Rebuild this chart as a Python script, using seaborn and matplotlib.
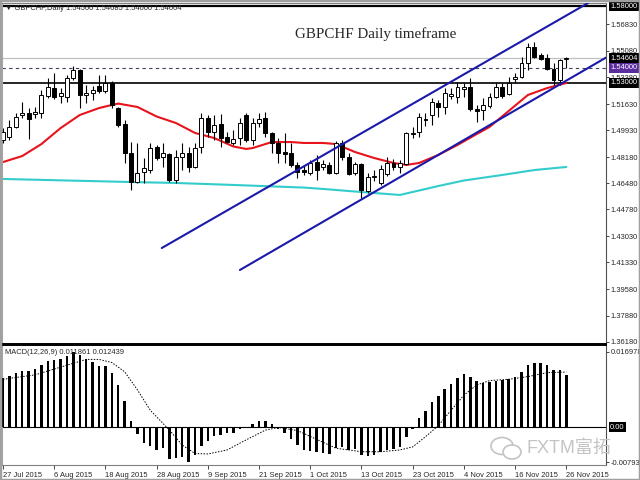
import numpy as np
import pandas as pd
import matplotlib
matplotlib.use("Agg")
import matplotlib.pyplot as plt
import matplotlib.transforms as mtransforms
from matplotlib.patches import Rectangle, Ellipse
import seaborn as sns

# daily candles, 27 Jul 2015 .. 26 Nov 2015
opens = [1.4929, 1.4949, 1.5014, 1.5092, 1.5105, 1.5098, 1.5105, 1.5215, 1.5267, 1.5215,
         1.5209, 1.5332, 1.5384, 1.5222, 1.5235, 1.5280, 1.5248, 1.5300, 1.5137, 1.5033,
         1.4845, 1.4656, 1.4721, 1.4734, 1.4884, 1.4819, 1.4838, 1.4669, 1.4819, 1.4845,
         1.4754, 1.4884, 1.5072, 1.4981, 1.5033, 1.4949, 1.4910, 1.4942, 1.5092, 1.4929,
         1.5040, 1.5072, 1.4975, 1.4910, 1.4851, 1.4845, 1.4767, 1.4734, 1.4715, 1.4786,
         1.4754, 1.4767, 1.4715, 1.4910, 1.4819, 1.4715, 1.4773, 1.4598, 1.4689, 1.4650,
         1.4708, 1.4780, 1.4754, 1.4773, 1.4968, 1.4981, 1.5059, 1.5092, 1.5170, 1.5144,
         1.5215, 1.5209, 1.5261, 1.5274, 1.5131, 1.5124, 1.5150, 1.5209, 1.5274, 1.5228,
         1.5326, 1.5339, 1.5430, 1.5534, 1.5482, 1.5462, 1.5391, 1.5319, 1.5456]
highs = [1.5007, 1.5059, 1.5105, 1.5176, 1.5137, 1.5144, 1.5254, 1.5332, 1.5365, 1.5267,
         1.5352, 1.5410, 1.5391, 1.5287, 1.5280, 1.5352, 1.5352, 1.5313, 1.5144, 1.5059,
         1.4916, 1.4910, 1.4812, 1.4910, 1.4897, 1.4910, 1.4845, 1.4864, 1.4910, 1.4884,
         1.4910, 1.5105, 1.5092, 1.5092, 1.5098, 1.4981, 1.4994, 1.5072, 1.5105, 1.5072,
         1.5105, 1.5111, 1.4981, 1.4942, 1.4975, 1.4910, 1.4786, 1.4767, 1.4799, 1.4832,
         1.4799, 1.4786, 1.4923, 1.4929, 1.4845, 1.4786, 1.4780, 1.4715, 1.4734, 1.4767,
         1.4819, 1.4806, 1.4799, 1.4981, 1.5014, 1.5105, 1.5105, 1.5202, 1.5189, 1.5267,
         1.5267, 1.5306, 1.5300, 1.5332, 1.5157, 1.5202, 1.5235, 1.5300, 1.5300, 1.5339,
         1.5365, 1.5469, 1.5560, 1.5566, 1.5494, 1.5488, 1.5430, 1.5456, 1.54685]
lows = [1.4910, 1.4929, 1.5007, 1.5072, 1.4936, 1.5072, 1.5072, 1.5202, 1.5196, 1.5170,
        1.5176, 1.5319, 1.5137, 1.5170, 1.5189, 1.5235, 1.5235, 1.5137, 1.5014, 1.4780,
        1.4604, 1.4650, 1.4650, 1.4715, 1.4799, 1.4754, 1.4656, 1.4650, 1.4734, 1.4721,
        1.4747, 1.4845, 1.4949, 1.4929, 1.4884, 1.4910, 1.4897, 1.4897, 1.4916, 1.4897,
        1.5014, 1.4949, 1.4845, 1.4780, 1.4780, 1.4754, 1.4682, 1.4702, 1.4702, 1.4669,
        1.4734, 1.4708, 1.4708, 1.4799, 1.4702, 1.4702, 1.4552, 1.4585, 1.4663, 1.4637,
        1.4695, 1.4734, 1.4715, 1.4767, 1.4942, 1.4949, 1.5020, 1.5027, 1.5079, 1.5098,
        1.5196, 1.5170, 1.5209, 1.5118, 1.5046, 1.5059, 1.5137, 1.5202, 1.5202, 1.5222,
        1.5300, 1.5332, 1.5384, 1.5462, 1.5449, 1.5384, 1.5287, 1.5287, 1.5400]
closes = [1.4981, 1.5014, 1.5079, 1.5105, 1.5066, 1.5111, 1.5222, 1.5274, 1.5209, 1.5235,
          1.5332, 1.5384, 1.5222, 1.5235, 1.5254, 1.5248, 1.5300, 1.5157, 1.5027, 1.4845,
          1.4656, 1.4715, 1.4747, 1.4877, 1.4812, 1.4845, 1.4669, 1.4819, 1.4845, 1.4754,
          1.4877, 1.5072, 1.4981, 1.5027, 1.4942, 1.4916, 1.4936, 1.5040, 1.4929, 1.5040,
          1.5066, 1.4975, 1.4910, 1.4845, 1.4838, 1.4767, 1.4721, 1.4721, 1.4780, 1.4734,
          1.4773, 1.4715, 1.4910, 1.4819, 1.4708, 1.4773, 1.4604, 1.4689, 1.4695, 1.4741,
          1.4780, 1.4754, 1.4780, 1.4975, 1.4975, 1.5079, 1.5066, 1.5176, 1.5144, 1.5235,
          1.5228, 1.5274, 1.5274, 1.5131, 1.5118, 1.5157, 1.5209, 1.5274, 1.5215, 1.5300,
          1.5339, 1.5430, 1.5534, 1.5469, 1.5456, 1.5391, 1.5319, 1.5450, 1.54604]

# moving averages (bar index, price)
red_idx = [0, 3, 6, 9, 12, 15, 17, 18, 21, 24, 27, 30, 33, 36, 38, 39, 42, 45, 47, 50,
           52, 55, 58, 61, 63, 65, 68, 71, 74, 76, 79, 82, 85, 88]
red_val = [1.4786, 1.4825, 1.4903, 1.5007, 1.5092, 1.5137, 1.5157, 1.5166, 1.5144, 1.5082,
           1.5040, 1.4975, 1.4942, 1.4887, 1.4871, 1.4877, 1.4916, 1.4916, 1.4910, 1.4910,
           1.4903, 1.4851, 1.4812, 1.4780, 1.4767, 1.4780, 1.4832, 1.4897, 1.4968, 1.5014,
           1.5118, 1.5222, 1.5267, 1.5300]
cyan_idx = [0, 7, 20, 27, 36, 47, 50, 56, 62, 68, 72, 78, 83, 88]
cyan_val = [1.4676, 1.4669, 1.4656, 1.4650, 1.4637, 1.4620, 1.4611, 1.4591, 1.4572, 1.4630,
            1.4666, 1.4702, 1.4734, 1.4754]

# trend channel anchors
upper_x = [24.8, 91.4]
upper_y = [1.4227, 1.5820]
lower_x = [37.0, 94.2]
lower_y = [1.4084, 1.5465]

macd_hist = [0.01102, 0.01155, 0.01215, 0.01275, 0.01275, 0.01306, 0.01404, 0.01494, 0.01517, 0.01539,
             0.01607, 0.016978, 0.01630, 0.01539, 0.01479, 0.01389, 0.01381, 0.01215, 0.00951, 0.00596,
             0.00143, -0.00158, -0.00370, -0.00430, -0.00521, -0.00483, -0.00732, -0.00709, -0.00672, -0.007932,
             -0.00634, -0.00430, -0.00309, -0.00204, -0.00181, -0.00143, -0.00143, -0.00038, -0.00030, 0.00068,
             0.00143, 0.00143, 0.00060, -0.00053, -0.00128, -0.00264, -0.00408, -0.00521, -0.00536, -0.00558,
             -0.00581, -0.00611, -0.00483, -0.00460, -0.00521, -0.00506, -0.00634, -0.00657, -0.00634, -0.00558,
             -0.00521, -0.00506, -0.00445, -0.00219, -0.00053, 0.00196, 0.00370, 0.00574, 0.00702, 0.00860,
             0.00974, 0.01102, 0.01200, 0.01140, 0.01049, 0.01004, 0.01026, 0.01049, 0.01064, 0.01079,
             0.01124, 0.01238, 0.01404, 0.01457, 0.01457, 0.01404, 0.01290, 0.01290, 0.011861]
sig_idx = [0, 5, 10, 13, 15, 17, 19, 21, 23, 26, 28, 30, 32, 35, 38, 41, 43, 46, 49, 52,
           56, 59, 62, 64, 66, 68, 70, 72, 74, 76, 79, 82, 85, 88]
sig_val = [0.0108, 0.0118, 0.0140, 0.0153, 0.0153, 0.0146, 0.0125, 0.0084, 0.0038, -0.0007,
           -0.0041, -0.0060, -0.0061, -0.0052, -0.0029, -0.0007, -0.0001, -0.0008, -0.0028, -0.0048,
           -0.0056, -0.0056, -0.0052, -0.0045, -0.0022, 0.0003, 0.0038, 0.0072, 0.0095, 0.0105,
           0.0108, 0.0114, 0.0123, 0.012439]

date_pos = [0, 8, 16, 24, 32, 40, 48, 56, 64, 72, 80, 88]
date_labels = ["27 Jul 2015", "6 Aug 2015", "18 Aug 2015", "28 Aug 2015", "9 Sep 2015",
               "21 Sep 2015", "1 Oct 2015", "13 Oct 2015", "23 Oct 2015", "4 Nov 2015",
               "16 Nov 2015", "26 Nov 2015"]
price_ticks = [1.5683, 1.5508, 1.5338, 1.5163, 1.4993, 1.4818, 1.4648, 1.4478, 1.4303,
               1.4133, 1.3958, 1.3788, 1.3618]
boxed_levels = [1.58, 1.54604, 1.54, 1.53]
boxed_colors = ["black", "black", "#5b2c9e", "black"]

sns.set_style("white")
plt.rcParams['font.family'] = ['Liberation Sans', 'DejaVu Sans']
FS = 5.4

df = pd.DataFrame({"o": opens, "h": highs, "l": lows, "c": closes})
df["x"] = np.arange(len(df))
df["bottom"] = df[["o", "c"]].min(axis=1)
df["height"] = (df["c"] - df["o"]).abs().clip(lower=0.00015)
df["fill"] = np.where(df["c"] >= df["o"], "white", "black")

fig = plt.figure(figsize=(6.4, 4.8), dpi=100)
ax = fig.add_axes([2 / 640, 136 / 480, 604 / 640, 341 / 480])
axm = fig.add_axes([2 / 640, 15 / 480, 604 / 640, 120 / 480], sharex=ax)

# horizontal levels
ax.axhline(1.58, color="black", lw=1.6, zorder=1)
ax.axhline(1.53, color="black", lw=1.2, zorder=1)
ax.axhline(1.54, color="#404058", lw=0.8, ls=(0, (3, 3)), zorder=1)
ax.axhline(1.54604, color="#c0c0c0", lw=0.9, zorder=1)

# moving averages
sns.lineplot(x=cyan_idx, y=cyan_val, ax=ax, color="#33cccc", lw=1.5, estimator=None, sort=False)
sns.lineplot(x=red_idx, y=red_val, ax=ax, color="#e8141c", lw=1.5, estimator=None, sort=False)

# candles
ax.vlines(df["x"], df["l"], df["h"], color="black", lw=0.8, zorder=3)
ax.bar(df["x"], df["height"], bottom=df["bottom"], width=0.62, color=df["fill"],
       edgecolor="black", lw=0.7, zorder=4)

# channel
ax.plot(upper_x, upper_y, color="#1a1aaa", lw=1.5, zorder=5)
ax.plot(lower_x, lower_y, color="#1a1aaa", lw=1.5, zorder=5)

ax.set_xlim(-0.16, 94.2)
ax.set_ylim(1.3603, 1.5820)
ax.yaxis.tick_right()
ax.set_yticks(price_ticks)
ax.set_yticklabels([f"{v:.5f}" for v in price_ticks])
ax.tick_params(axis="y", labelsize=FS, length=2, width=0.6, pad=1.5, right=True, left=False)
ax.tick_params(axis="x", labelbottom=False, bottom=False)
ax.set_xlabel("")
ax.set_ylabel("")

bl = mtransforms.blended_transform_factory(ax.transAxes, ax.transData)
for v, col in zip(boxed_levels, boxed_colors):
    ax.text(1.007, v, f"{v:.5f}", transform=bl, fontsize=FS, color="white", va="center",
            ha="left", bbox=dict(boxstyle="square,pad=0.2", fc=col, ec="none"), zorder=10)

for sp in ["left", "right", "top", "bottom"]:
    ax.spines[sp].set_visible(True)
ax.spines["left"].set_color("#a8a8a8")
ax.spines["right"].set_color("#505050")
ax.spines["top"].set_color("#808080")
ax.spines["bottom"].set_color("black")
ax.spines["bottom"].set_linewidth(1.4)

# MACD panel
axm.bar(np.arange(len(macd_hist)), macd_hist, width=0.38, color="black", lw=0,
        antialiased=False, zorder=3)
sns.lineplot(x=sig_idx, y=sig_val, ax=axm, color="black", lw=0.7, ls=(0, (1.5, 1.5)),
             estimator=None, sort=False)
axm.axhline(0, color="black", lw=0.8, zorder=2)
axm.set_ylim(-0.0086, 0.01856)
axm.yaxis.tick_right()
axm.set_yticks([0.016978, -0.007932])
axm.set_yticklabels(["0.016978", "-0.007932"])
axm.tick_params(axis="y", labelsize=FS, length=2, width=0.6, pad=1.5, right=True, left=False)
axm.set_xticks(date_pos)
axm.set_xticklabels(date_labels, ha="left")
axm.tick_params(axis="x", labelsize=FS, length=3, width=0.6, pad=2, bottom=True)
axm.set_xlabel("")
axm.set_ylabel("")
blm = mtransforms.blended_transform_factory(axm.transAxes, axm.transData)
axm.text(1.007, 0, "0.00", transform=blm, fontsize=FS, color="white", va="center",
         ha="left", bbox=dict(boxstyle="square,pad=0.2", fc="black", ec="none"), zorder=10)
for sp in ["left", "right", "top", "bottom"]:
    axm.spines[sp].set_visible(True)
axm.spines["left"].set_color("#a8a8a8")
axm.spines["right"].set_color("#505050")
axm.spines["top"].set_color("black")
axm.spines["top"].set_linewidth(1.4)
axm.spines["bottom"].set_color("#808080")

# texts
fig.text(5 / 640, 1 - 8 / 480, "\u25bc GBPCHF,Daily 1.54560 1.54685 1.54000 1.54604",
         fontsize=FS, va="center", ha="left")
fig.text(295 / 640, 1 - 34 / 480, "GBPCHF Daily timeframe", family="Liberation Serif",
         fontsize=10.8, va="center", ha="left")
fig.text(5 / 640, 1 - 353 / 480, "MACD(12,26,9) 0.011861 0.012439", fontsize=FS,
         va="center", ha="left")
fig.text(527 / 640, 1 - 448 / 480, "FXTM富拓", color="#c4c4c4", fontsize=13,
         family=["Liberation Sans", "Noto Sans CJK SC"], va="center", ha="left")
fig.patches.append(Ellipse((502 / 640, 1 - 446 / 480), 22 / 640, 17 / 480, transform=fig.transFigure,
                           fill=False, ec="#c4c4c4", lw=1.2))
fig.patches.append(Ellipse((512 / 640, 1 - 452 / 480), 18 / 640, 14 / 480, transform=fig.transFigure,
                           fc="white", ec="#c4c4c4", lw=1.2))
fig.patches.append(Rectangle((0, 0), 1, 1, transform=fig.transFigure, fill=False,
                             ec="#a0a0a0", lw=2.5))

fig.savefig("out.png", dpi=100)
